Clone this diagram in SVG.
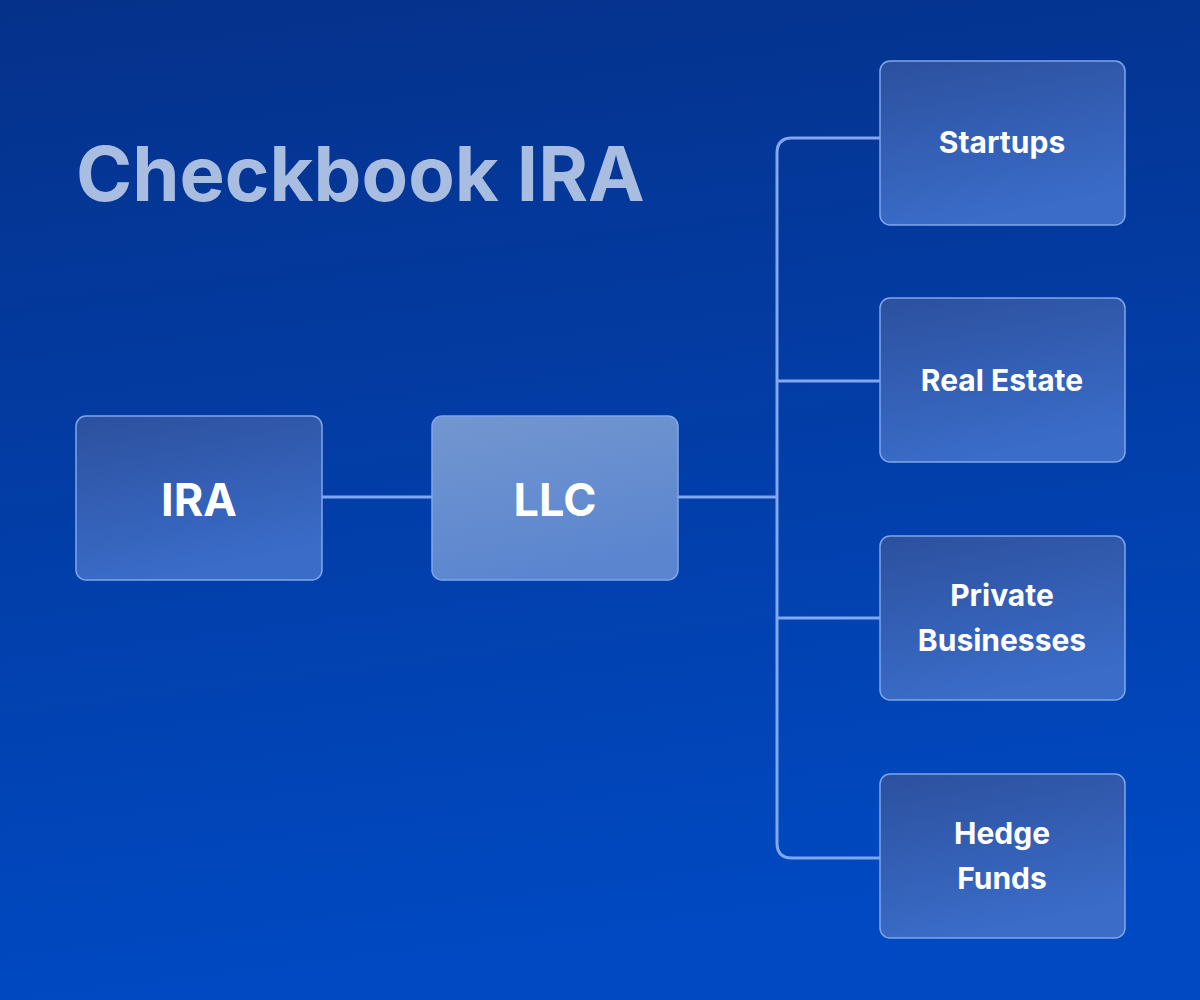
<svg xmlns="http://www.w3.org/2000/svg" width="1200" height="1000" viewBox="0 0 1200 1000">
<defs>
<linearGradient id="bg" x1="0" y1="0" x2="0.15" y2="1">
<stop offset="0" stop-color="#05318a"/><stop offset="1" stop-color="#0049c2"/>
</linearGradient>
<linearGradient id="box" x1="0" y1="0" x2="0.3" y2="1">
<stop offset="0" stop-color="#2c509e"/><stop offset="1" stop-color="#3a6cc8"/>
</linearGradient>
<linearGradient id="llc" x1="0" y1="0" x2="0.3" y2="1">
<stop offset="0" stop-color="#7396cf"/><stop offset="1" stop-color="#5b86cf"/>
</linearGradient>
<style>
.n{fill:url(#box);stroke:#7fa6ec;stroke-width:1.5}
.t{font-family:Inter,"Liberation Sans",sans-serif;font-weight:700;fill:#fff;text-anchor:middle}
.c{fill:none;stroke:#80a8f0;stroke-width:3}
</style>
</defs>
<rect width="1200" height="1000" fill="url(#bg)"/>
<text x="76" y="201" font-family="Inter,'Liberation Sans',sans-serif" font-weight="700" font-size="76" fill="#a9bde0">Checkbook IRA</text>
<g id="connectors">
<path class="c" d="M322 497H432M678 497H777M880 138H792Q777 138 777 153V843Q777 858 792 858H880M777 381H880M777 618H880"/>
</g>
<g id="ira"><rect class="n" x="76" y="416" width="246" height="164" rx="10"/><text class="t" x="199" y="516" font-size="45">IRA</text></g>
<g id="llc_n"><rect class="n" style="fill:url(#llc)" x="432" y="416" width="246" height="164" rx="10"/><text class="t" x="555" y="516" font-size="45">LLC</text></g>
<g id="startups"><rect class="n" x="880" y="61" width="245" height="164" rx="10"/><text class="t" x="1002" y="153" font-size="30">Startups</text></g>
<g id="realestate"><rect class="n" x="880" y="298" width="245" height="164" rx="10"/><text class="t" x="1002" y="391" font-size="30">Real Estate</text></g>
<g id="private"><rect class="n" x="880" y="536" width="245" height="164" rx="10"/><text class="t" x="1002" y="606" font-size="30">Private</text><text class="t" x="1002" y="651" font-size="30">Businesses</text></g>
<g id="hedge"><rect class="n" x="880" y="774" width="245" height="164" rx="10"/><text class="t" x="1002" y="844" font-size="30">Hedge</text><text class="t" x="1002" y="889" font-size="30">Funds</text></g>
</svg>
